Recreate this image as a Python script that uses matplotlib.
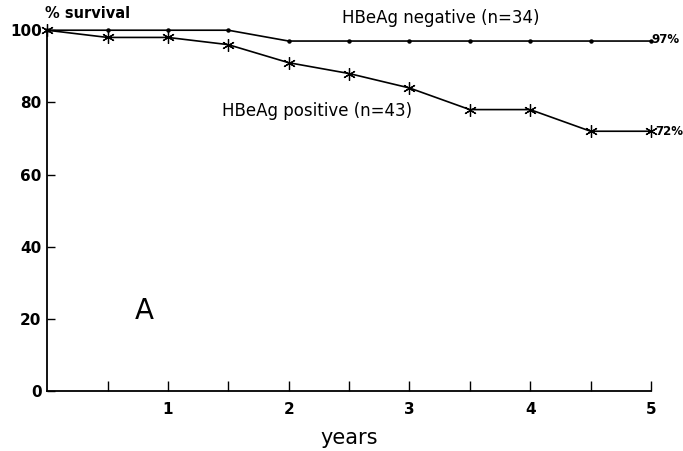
import matplotlib
matplotlib.use("Agg")
import matplotlib.pyplot as plt

# Survival (%) by follow-up time in years
years = [0, 0.5, 1, 1.5, 2, 2.5, 3, 3.5, 4, 4.5, 5]
hbeag_negative = [100, 100, 100, 100, 97, 97, 97, 97, 97, 97, 97]
hbeag_positive = [100, 98, 98, 96, 91, 88, 84, 78, 78, 72, 72]

x_ticks = [1, 2, 3, 4, 5]
x_minor = [0.5, 1.5, 2.5, 3.5, 4.5]
y_ticks = [0, 20, 40, 60, 80, 100]

plt.rcParams['font.family'] = ['DejaVu Sans']

fig = plt.figure(figsize=(6.83, 4.51), dpi=100)
ax = fig.add_axes([0.069, 0.133, 0.884, 0.80])

ax.plot(years, hbeag_negative, color='black', lw=1.2, marker='o', ms=2.2,
        clip_on=False, zorder=3)
ax.plot(years, hbeag_positive, color='black', lw=1.2, marker=(6, 2, 0), ms=9,
        mew=0.9, clip_on=False, zorder=3)

ax.set_xlim(0, 5)
ax.set_ylim(0, 100)
ax.spines['top'].set_visible(False)
ax.spines['right'].set_visible(False)
for s in ('left', 'bottom'):
    ax.spines[s].set_linewidth(1.3)

ax.set_xticks(x_ticks)
ax.set_xticks(x_minor, minor=True)
ax.set_yticks(y_ticks)
ax.tick_params(axis='x', which='both', direction='in', length=7, width=1,
               pad=8, labelsize=11)
ax.tick_params(axis='y', direction='in', length=6, width=1, pad=4,
               labelsize=11)
for lab in ax.get_xticklabels() + ax.get_yticklabels():
    lab.set_fontweight('bold')

ax.set_xlabel('years', fontsize=15, labelpad=8)

ax.text(-0.02, 102.5, '% survival', fontsize=10.5, fontweight='bold',
        ha='left', va='bottom')
ax.text(0.807, 22.2, 'A', fontsize=20, ha='center', va='center')
ax.text(2.445, 103.3, 'HBeAg negative (n=34)', fontsize=12, ha='left',
        va='center')
ax.text(1.445, 77.6, 'HBeAg positive (n=43)', fontsize=12, ha='left',
        va='center')
ax.text(5.0, hbeag_negative[-1] + 0.5, '97%', fontsize=8.5, fontweight='bold',
        ha='left', va='center')
ax.text(5.04, hbeag_positive[-1], '72%', fontsize=8.5, fontweight='bold',
        ha='left', va='center')

fig.savefig('out.png', dpi=100)
